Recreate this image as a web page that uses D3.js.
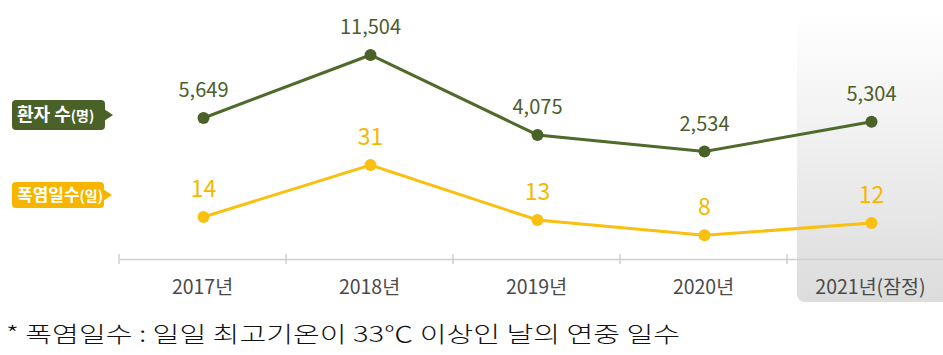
<!DOCTYPE html>
<html><head><meta charset="utf-8">
<script src="https://cdn.jsdelivr.net/npm/d3@7/dist/d3.min.js"></script>
<style>body{margin:0;background:#fff}svg{display:block}</style>
</head><body>
<svg id="c" width="943" height="355"></svg>
<script>
const years = ["2017년","2018년","2019년","2020년","2021년(잠정)"];
const patients = [5649, 11504, 4075, 2534, 5304];
const heatDays = [14, 31, 13, 8, 12];

const svg = d3.select("#c");
const font = "'Noto Sans CJK KR', 'Noto Sans', sans-serif";

const x = d3.scaleBand().domain(years).range([119, 954]).paddingInner(0).paddingOuter(0);
const yP = d3.scaleLinear().domain([0, 11504]).range([178.8, 55]);
const yH = d3.scaleLinear().domain([0, 31]).range([259.8, 165]);

// highlight box
const defs = svg.append("defs");
const g = defs.append("linearGradient").attr("id","hl").attr("x1",0).attr("y1",0).attr("x2",0).attr("y2",1);
g.append("stop").attr("offset","0%").attr("stop-color","#ffffff");
g.append("stop").attr("offset","100%").attr("stop-color","#dcdcdc");
const lastX = x(years[4]);
svg.append("rect").attr("x", lastX+10).attr("y", 14).attr("width", 160).attr("height", 288)
  .attr("rx", 8).attr("fill","url(#hl)");

// axis
const axisY = 259;
const ax = svg.append("g").attr("transform",`translate(0,${axisY})`)
  .call(d3.axisBottom(x).tickSize(0).tickFormat(""));
ax.select(".domain").attr("stroke","#cfcfcf").attr("stroke-width",1.5);
const bounds = years.map(d => x(d));
svg.selectAll(".tk").data(bounds).enter().append("line")
  .attr("x1",d=>d).attr("x2",d=>d).attr("y1",axisY-5).attr("y2",axisY+5)
  .attr("stroke","#cfcfcf").attr("stroke-width",1.5);

const cx = d => x(d) + x.bandwidth()/2 + 1;

svg.selectAll(".xl").data(years).enter().append("text")
  .attr("x", d => cx(d) - 1).attr("y", 294)
  .attr("text-anchor","middle").attr("font-family",font).attr("font-size",19.5)
  .attr("fill","#4a4a4a").text(d=>d);

// patients line
const green = "#4f6a2b";
svg.append("path").datum(patients)
  .attr("d", d3.line().x((d,i)=>cx(years[i])).y(d=>yP(d)))
  .attr("fill","none").attr("stroke",green).attr("stroke-width",3);
svg.selectAll(".pd").data(patients).enter().append("circle")
  .attr("cx",(d,i)=>cx(years[i])).attr("cy",d=>yP(d)).attr("r",6).attr("fill","#4a6127");
svg.selectAll(".pl").data(patients).enter().append("text")
  .attr("x",(d,i)=>cx(years[i])).attr("y",d=>yP(d)-21)
  .attr("text-anchor","middle").attr("font-family",font).attr("font-size",20)
  .attr("fill","#4b5e2c").text(d=>d3.format(",")(d));

// heat days line
const yellow = "#f9c012";
svg.append("path").datum(heatDays)
  .attr("d", d3.line().x((d,i)=>cx(years[i])).y(d=>yH(d)))
  .attr("fill","none").attr("stroke",yellow).attr("stroke-width",3);
svg.selectAll(".hd").data(heatDays).enter().append("circle")
  .attr("cx",(d,i)=>cx(years[i])).attr("cy",d=>yH(d)).attr("r",6).attr("fill",yellow);
svg.selectAll(".hl").data(heatDays).enter().append("text")
  .attr("x",(d,i)=>cx(years[i])).attr("y",d=>yH(d)-20)
  .attr("text-anchor","middle").attr("font-family",font).attr("font-size",23)
  .attr("fill","#f5b800").text(d=>d);

// badges
function badge(y0, h, color, main, sub, w, fs){
  const bx = 12;
  const gg = svg.append("g");
  gg.append("rect").attr("x",bx).attr("y",y0).attr("width",w).attr("height",h).attr("rx",4).attr("fill",color);
  const my = y0 + h/2;
  gg.append("path").attr("d",`M${bx+w-1},${my-6} L${bx+w+8},${my} L${bx+w-1},${my+6} Z`).attr("fill",color);
  const t = gg.append("text").attr("x",bx+5).attr("y",my+6).attr("font-family",font).attr("fill","#fff")
    .attr("font-weight",700);
  t.append("tspan").attr("font-size",fs).text(main);
  t.append("tspan").attr("font-size",14).text(sub);
}
badge(100, 30, "#4a6128", "환자 수", "(명)", 93, 18);
badge(182, 26, "#f7b500", "폭염일수", "(일)", 92, 17);

// footnote
svg.append("text").attr("x",6).attr("y",342).attr("font-family","'Noto Sans CJK KR', sans-serif")
  .attr("font-size",22).attr("font-weight",300).attr("fill","#111")
  .attr("textLength", 674).attr("lengthAdjust","spacingAndGlyphs")
  .text("* 폭염일수 : 일일 최고기온이 33℃ 이상인 날의 연중 일수");
</script>
</body></html>
